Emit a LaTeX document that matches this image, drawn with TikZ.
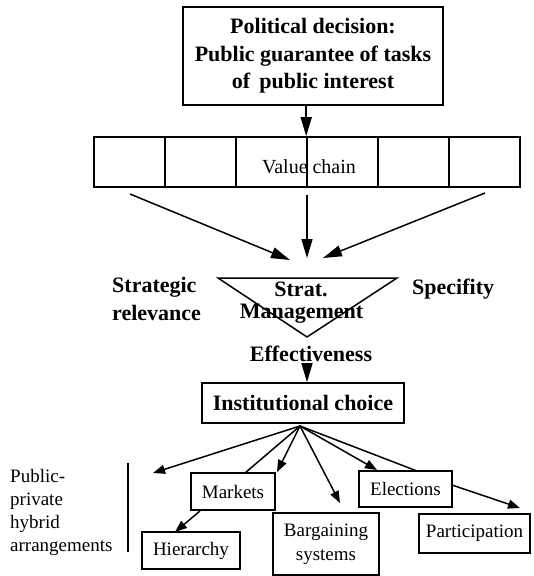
\documentclass[tikz,border=0pt]{standalone}
\usepackage{fontspec}
\setmainfont{Liberation Serif}
\usetikzlibrary{arrows.meta}
\tikzset{
  bigb/.style={font=\fontsize{22}{27.5}\selectfont\bfseries, align=center, inner sep=0pt},
  reg/.style={font=\fontsize{19}{24}\selectfont, align=center, inner sep=0pt},
  box/.style={draw, line width=1.6pt, inner sep=0pt},
  cell/.style={draw, line width=1.6pt, minimum width=71pt, minimum height=50pt, inner sep=0pt},
  arr/.style={line width=1.5pt, -{Triangle[length=19pt,width=11pt]}},
  arrs/.style={line width=1.5pt, -{Triangle[length=12pt,width=9pt]}},
  ln/.style={line width=1.5pt},
}
\begin{document}
\begin{tikzpicture}[x=1pt,y=-1pt]
\useasboundingbox (0,0) rectangle (534,576);
% top box
\node[box, bigb, minimum width=260pt, minimum height=98pt] (top) at (313,56)
  {Political decision:\\Public guarantee of tasks\\of\, public interest};
% value chain cells
\node[cell] (c1) at (129.5,162) {};
\node[cell] (c2) at (200.5,162) {};
\node[cell] (c3) at (271.5,162) {};
\node[cell] (c4) at (342.5,162) {};
\node[cell] (c5) at (413.5,162) {};
\node[cell] (c6) at (484.5,162) {};
\node[font=\fontsize{20}{24}\selectfont, inner sep=0pt] (vc) at (309,167) {Value chain};
\draw[arr] (top.south -| c4.west) -- (c4.north west);
% arrows to triangle
\coordinate (sL) at (130,194);
\coordinate (sM) at (307,195);
\coordinate (sR) at (485,193);
\coordinate (eL) at (290,260);
\coordinate (eM) at (307,258);
\coordinate (eR) at (323,258);
\draw[arr] (sL) -- (eL);
\draw[arr] (sM) -- (eM);
\draw[arr] (sR) -- (eR);
% triangle
\coordinate (t1) at (218,278);
\coordinate (t2) at (397,278);
\coordinate (t3) at (307,337);
\draw[ln, line join=miter] (t1) -- (t2) -- (t3) -- cycle;
\node[bigb] (strat) at (301,289) {Strat.};
\node[bigb] (mgmt) at (301.5,314) {Management};
\node[bigb, align=left, anchor=west] (strel) at (112,299) {Strategic\\relevance};
\node[bigb, anchor=west] (spec) at (412,289) {Specifity};
\node[bigb] (eff) at (311,354) {Effectiveness};
% institutional choice
\node[box, bigb, minimum width=202pt, minimum height=40pt] (inst) at (303,403) {Institutional choice};
\coordinate (effb) at (307,366);
\draw[arr] (effb) -- (effb |- inst.north);
% bottom boxes
\node[box, reg, minimum width=84pt, minimum height=37pt] (mk) at (233,491.5) {Markets};
\node[box, reg, minimum width=93pt, minimum height=36pt] (el) at (405.5,489) {Elections};
\node[box, reg, minimum width=111pt, minimum height=39pt] (pa) at (474.5,533.5) {Participation};
\node[box, reg, minimum width=98pt, minimum height=37pt] (hi) at (191,550.5) {Hierarchy};
\node[box, reg, minimum width=106pt, minimum height=62pt] (ba) at (326,544) {Bargaining\\systems};
% fan
\coordinate (fo) at (300,426);
\coordinate (pp) at (153,473);
\coordinate (mkt) at (245,473);
\coordinate (mkr) at (277,472);
\coordinate (bat) at (340,503);
\coordinate (elt) at (377,470);
\coordinate (elr) at (417,471);
\draw[arrs] (fo) -- (pp);
\draw[ln] (fo) -- (mkt);
\draw[arrs] (fo) -- (mkr);
\draw[arrs] (fo) -- (bat);
\draw[arrs] (fo) -- (elt);
\draw[ln] (fo) -- (elr);
\coordinate (elo) at (452,485);
\coordinate (pat) at (520,508);
\draw[arrs] (elo) -- (pat);
\coordinate (mko) at (200,511);
\coordinate (hit) at (175,532);
\draw[arrs] (mko) -- (hit);
% left label
\node[font=\fontsize{19}{23.3}\selectfont, align=left, anchor=west, inner sep=0pt] (ppl) at (10,512.5) {Public-\\private\\hybrid\\arrangements};
\coordinate (vt) at (128,463);
\coordinate (vb) at (128,552);
\draw[line width=1.2pt] (vt) -- (vb);
\end{tikzpicture}
\end{document}
